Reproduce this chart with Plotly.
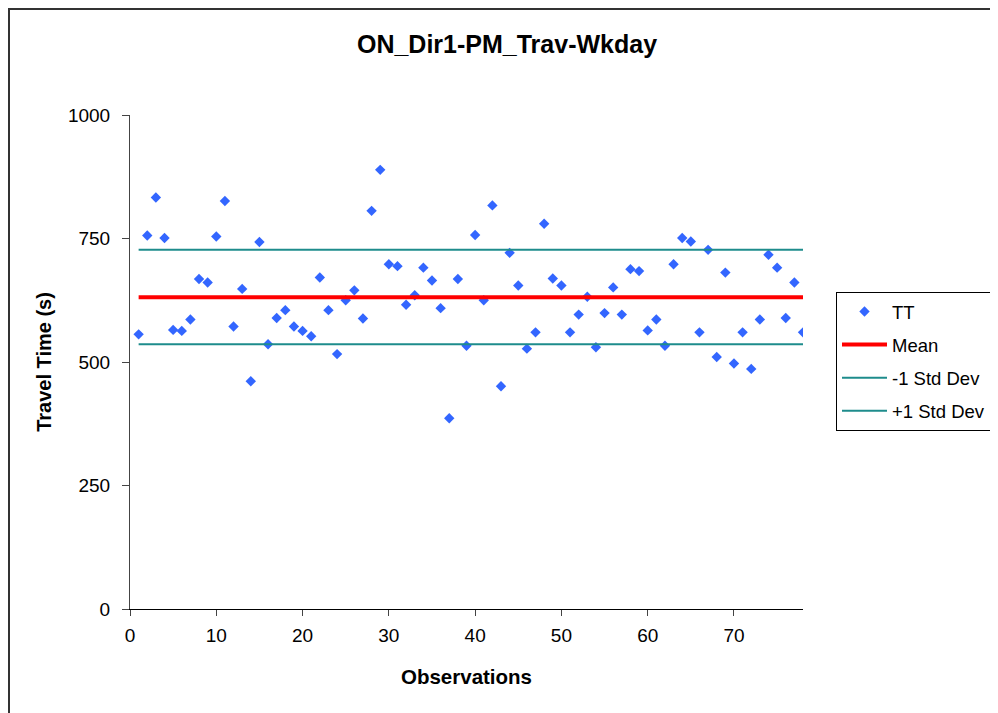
import plotly.graph_objects as go

observations = list(range(1, 79))
travel_time = [556, 756, 833, 751, 565, 563, 586, 668, 661, 754,
               826, 572, 648, 461, 743, 536, 589, 605, 572, 563,
               552, 671, 605, 516, 625, 645, 588, 806, 889, 698,
               694, 616, 635, 691, 665, 609, 386, 668, 533, 757,
               625, 817, 451, 721, 655, 527, 560, 780, 669, 655,
               560, 596, 632, 530, 599, 651, 596, 688, 684, 564,
               586, 533, 698, 751, 744, 560, 727, 510, 681, 497,
               560, 486, 586, 717, 691, 589, 661, 560]
mean_value = 631
minus_1_sd = 536
plus_1_sd = 727

y_ticks = [0, 250, 500, 750, 1000]
x_ticks = [0, 10, 20, 30, 40, 50, 60, 70]

FONT = "Liberation Sans, Arial, sans-serif"

fig = go.Figure()
fig.add_trace(go.Scatter(
    x=observations, y=travel_time, mode="markers", name="TT",
    legendgroup="a",
    marker=dict(symbol="diamond", size=8, color="#3366FF"),
))
line_x = [observations[0], observations[-1]]
fig.add_trace(go.Scatter(
    x=line_x, y=[mean_value, mean_value], mode="lines", name="Mean",
    legendgroup="b", line=dict(color="#FF0000", width=4),
))
fig.add_trace(go.Scatter(
    x=line_x, y=[minus_1_sd, minus_1_sd], mode="lines", name="-1 Std Dev",
    legendgroup="c", line=dict(color="#1E8C8C", width=2),
))
fig.add_trace(go.Scatter(
    x=line_x, y=[plus_1_sd, plus_1_sd], mode="lines", name="+1 Std Dev",
    legendgroup="d", line=dict(color="#1E8C8C", width=2),
))

# page body has an 8px margin: screen px -> figure px subtract OFF
OFF = 8
L, R, T, B = 130 - OFF, 803 - OFF, 115 - OFF, 609 - OFF
W, H = 998 - OFF, 713 - OFF
pw, ph = R - L, B - T

def px_x(p):
    return (p - OFF - L) / pw

def px_y(p):
    return (B - (p - OFF)) / ph

fig.update_layout(
    width=W, height=H,
    margin=dict(l=L, r=W - R, t=T, b=H - B, autoexpand=False),
    paper_bgcolor="white", plot_bgcolor="white",
    font=dict(family=FONT, size=19, color="black"),
    title=dict(text="<b>ON_Dir1-PM_Trav-Wkday</b>", x=(507 - OFF) / W, xref="container",
               xanchor="center",
               y=1 - (44 - OFF) / H, yanchor="middle",
               font=dict(family=FONT, size=25, color="black")),
    xaxis=dict(range=[0, 78], tickvals=x_ticks, ticks="outside", ticklen=6,
               ticklabelstandoff=3,
               showline=True, linecolor="black", linewidth=1, showgrid=False,
               zeroline=False, tickfont=dict(size=19),
               title=dict(text="<b>Observations</b>", font=dict(size=20.5), standoff=24)),
    yaxis=dict(range=[0, 1000], tickvals=y_ticks, ticks="outside", ticklen=7,
               ticklabelstandoff=8,
               showline=True, linecolor="#444444", linewidth=1, showgrid=False,
               zeroline=False, tickfont=dict(size=19),
               title=dict(text="<b>Travel Time (s)</b>", font=dict(size=20), standoff=10)),
    legend=dict(x=px_x(836), xanchor="left", y=px_y(292), yanchor="top",
                bordercolor="black", borderwidth=1, bgcolor="white",
                font=dict(family=FONT, size=18.5), traceorder="grouped",
                tracegroupgap=6, itemwidth=45),
    shapes=[dict(type="rect", xref="paper", yref="paper",
                 x0=px_x(9), x1=px_x(1100), y0=px_y(800), y1=px_y(9),
                 line=dict(color="#333333", width=2), fillcolor="rgba(0,0,0,0)",
                 layer="below")],
)

fig.write_html("out.html")
